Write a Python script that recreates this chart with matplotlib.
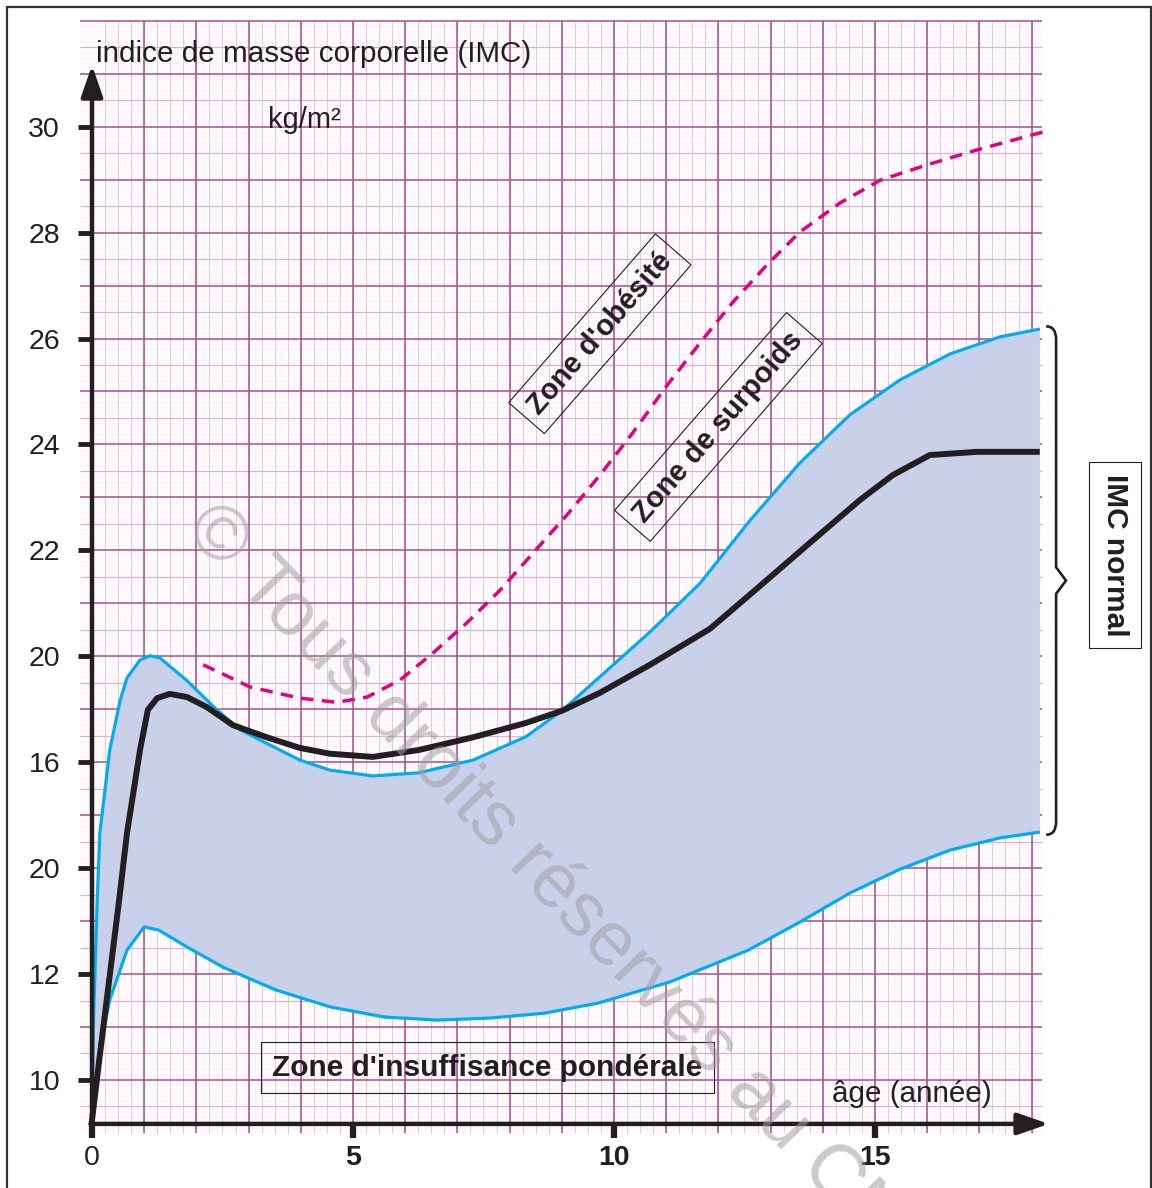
import numpy as np
import matplotlib
matplotlib.use("Agg")
import matplotlib.pyplot as plt
from matplotlib.patches import Rectangle, PathPatch
from matplotlib.path import Path

plt.rcParams['font.family'] = ['Liberation Sans', 'DejaVu Sans']

# --- data (age in years, IMC in kg/m2) ---
upper_age = [0, 0.04, 0.10, 0.15, 0.34, 0.54, 0.67, 0.92, 1.11, 1.30, 1.82, 2.39,
             2.84, 3.98, 4.56, 5.38, 6.26, 7.30, 8.31, 9.00, 9.92, 10.69, 11.65,
             12.61, 13.56, 14.52, 15.48, 16.44, 17.39, 18.16]
upper_imc = [11.81, 13.51, 15.40, 16.66, 18.23, 19.17, 19.59, 19.93, 20.01, 19.97,
             19.54, 18.99, 18.61, 18.04, 17.85, 17.74, 17.80, 18.04, 18.48, 18.97,
             19.78, 20.46, 21.38, 22.57, 23.65, 24.56, 25.22, 25.71, 26.03, 26.18]

median_age = [0, 0.15, 0.40, 0.52, 0.67, 0.92, 1.07, 1.25, 1.49, 1.82, 2.20, 2.70,
              3.35, 3.98, 4.56, 5.38, 6.26, 7.30, 8.31, 9.00, 9.73, 10.69, 11.84,
              12.80, 13.75, 14.71, 15.34, 16.05, 16.95, 18.10]
median_imc = [11.24, 12.47, 14.45, 15.40, 16.66, 18.23, 18.99, 19.21, 19.29, 19.23,
              19.04, 18.70, 18.47, 18.27, 18.16, 18.10, 18.23, 18.47, 18.74, 18.97,
              19.31, 19.84, 20.52, 21.33, 22.14, 22.95, 23.42, 23.80, 23.86, 23.86]

lower_age = [0, 0.15, 0.34, 0.67, 1.00, 1.28, 1.82, 2.51, 3.52, 4.56, 5.59, 6.61,
             7.64, 8.66, 9.69, 11.07, 12.57, 13.56, 14.52, 15.48, 16.44, 17.39, 18.16]
lower_imc = [11.43, 12.57, 13.51, 14.45, 14.89, 14.83, 14.51, 14.13, 13.70, 13.38,
             13.19, 13.13, 13.17, 13.26, 13.45, 13.85, 14.45, 14.98, 15.53, 15.98,
             16.34, 16.57, 16.68]

obese_age = [2.13, 3.03, 3.98, 4.69, 5.27, 5.90, 6.53, 7.18, 7.82, 8.45, 9.10, 9.73,
             10.36, 11.02, 11.65, 12.28, 12.93, 13.56, 14.33, 15.10, 16.00, 16.95, 18.22]
obese_imc = [19.84, 19.42, 19.21, 19.13, 19.23, 19.55, 20.06, 20.63, 21.25, 21.95,
             22.67, 23.42, 24.22, 25.12, 25.92, 26.69, 27.39, 28.01, 28.56, 28.99,
             29.28, 29.56, 29.90]

xticks = [0, 5, 10, 15]
xtick_labels = ['0', '5', '10', '15']
yticks = [12, 14, 16, 18, 20, 22, 24, 26, 28, 30]
ytick_labels = ['10', '12', '20', '16', '20', '22', '24', '26', '28', '30']

# --- colours ---
blue = '#00aeef'
dark = '#231f20'
pink = '#e6007e'
band = '#c9d0ea'

fig = plt.figure(figsize=(11.52, 11.88), dpi=100)
ax = fig.add_axes([0, 0, 1, 1])
ax.set_xlim(-1.7625, 20.307)
ax.set_ylim(9.96, 32.392)
ax.set_facecolor('white')

x_axis_y = 11.17
# graph paper background
gx0, gx1, gy0, gy1 = -0.23, 18.2, 11.0, 32.0
ax.add_patch(Rectangle((gx0, gy0), gx1 - gx0, gy1 - gy0, color='#fffbfd', zorder=0, lw=0))
ax.vlines(np.arange(0, 18.2, 0.125), gy0, gy1, color='#fdeef6', lw=0.4, zorder=0.5)
ax.hlines(np.arange(11.1, 32.0, 0.1), gx0, gx1, color='#fdeef6', lw=0.4, zorder=0.5)
ax.vlines(np.arange(0.25, 18.2, 0.25), gy0, gy1, color='#dccbd9', lw=0.7, zorder=0.6)
ax.hlines(np.arange(11.5, 32.0, 1.0), gx0, gx1, color='#e0b0d2', lw=0.9, zorder=0.6)
ax.vlines(np.arange(1, 19), gy0, gy1, color='#a84f8d', lw=1.1, zorder=0.7)
ax.hlines(np.arange(12, 33), gx0, gx1, color='#a84f8d', lw=1.1, zorder=0.7)

# normal band
ax.fill(np.concatenate([upper_age, lower_age[::-1]]),
        np.concatenate([upper_imc, lower_imc[::-1]]),
        color=band, lw=0, zorder=2)
ax.plot(upper_age, upper_imc, color=blue, lw=2.3, zorder=3, solid_capstyle='butt')
ax.plot(lower_age, lower_imc, color=blue, lw=2.3, zorder=3, solid_capstyle='butt')
ax.plot(median_age, median_imc, color=dark, lw=4.3, zorder=3.5, solid_joinstyle='round')
ax.plot(obese_age, obese_imc, color=pink, lw=2.5, dashes=(3.6, 2.4), zorder=3)

# axes, ticks
for s in ['top', 'right']:
    ax.spines[s].set_visible(False)
ax.spines['left'].set_position(('data', 0))
ax.spines['bottom'].set_position(('data', x_axis_y))
ax.spines['left'].set_visible(False)
ax.spines['bottom'].set_visible(False)
ax.set_xticks(xticks)
ax.set_xticklabels(xtick_labels)
ax.set_yticks(yticks)
ax.set_yticklabels(ytick_labels)
ax.tick_params(axis='y', direction='out', length=10, width=3.5, color=dark,
               labelsize=20.5, pad=13, labelcolor=dark)
ax.tick_params(axis='x', direction='out', length=10, width=4.5, color=dark,
               labelsize=20.5, pad=5, labelcolor=dark)
for lab in ax.get_xticklabels()[1:]:
    lab.set_fontweight('bold')

arrow_kw = dict(arrowstyle='-|>,head_length=0.95,head_width=0.33', lw=3.2,
                color=dark, mutation_scale=20, shrinkA=0, shrinkB=0)
ax.annotate('', xy=(0, 31.16), xytext=(0, x_axis_y - 0.04), arrowprops=arrow_kw, zorder=6)
ax.annotate('', xy=(18.33, x_axis_y), xytext=(-0.03, x_axis_y), arrowprops=arrow_kw, zorder=6)

# labels
ax.text(0.08, 31.22, 'indice de masse corporelle (IMC)', fontsize=21.3, color=dark,
        va='baseline', ha='left', zorder=6)
ax.text(3.37, 29.98, 'kg/m²', fontsize=21, color=dark, va='baseline', ha='left', zorder=6)
ax.text(14.18, 11.58, 'âge (année)', fontsize=21.3, color=dark, va='baseline', ha='left', zorder=6)

box = dict(boxstyle='square,pad=0.33', fc='none', ec=dark, lw=0.8)
ax.text(7.57, 12.23, "Zone d'insuffisance pondérale", fontsize=21.5, fontweight='bold',
        color=dark, ha='center', va='center', zorder=6,
        bbox=dict(boxstyle='square,pad=0.38', fc='none', ec=dark, lw=0.8))
ax.text(9.73, 26.09, "Zone d'obésité", fontsize=21, fontweight='bold', color=dark,
        ha='center', va='center', rotation=49, rotation_mode='anchor', bbox=box, zorder=6)
ax.text(12.0, 24.33, "Zone de surpoids", fontsize=21, fontweight='bold', color=dark,
        ha='center', va='center', rotation=49, rotation_mode='anchor', bbox=box, zorder=6)
ax.text(19.60, 21.91, "IMC normal", fontsize=21.5, fontweight='bold', color=dark,
        ha='center', va='center', rotation=-90, rotation_mode='anchor',
        bbox=dict(boxstyle='square,pad=0.4', fc='white', ec=dark, lw=0.8), zorder=6)

# brace for the normal band
bx, top, bot = 18.47, upper_imc[-1], lower_imc[-1]
mid = (top + bot) / 2
verts = [(18.28, top + 0.05), (bx, top + 0.05), (bx, top - 0.2),
         (bx, mid + 0.25), (18.66, mid), (bx, mid - 0.25),
         (bx, bot + 0.2), (bx, bot - 0.05), (18.28, bot - 0.05)]
codes = [Path.MOVETO, Path.CURVE3, Path.CURVE3,
         Path.LINETO, Path.LINETO, Path.LINETO,
         Path.LINETO, Path.CURVE3, Path.CURVE3]
ax.add_patch(PathPatch(Path(verts, codes), fc='none', ec=dark, lw=1.9, zorder=6))

# watermark (runs off the bottom edge, as in the original)
ax.text(8.98, 15.51, '© Tous droits réservés au CNP', fontsize=55, color='#a0a0a0',
        alpha=0.55, rotation=-46, rotation_mode='anchor', ha='center', va='center',
        zorder=7, clip_on=False)

# outer frame
fig.patches.append(Rectangle((7 / 1152, -0.01), 1144 / 1152, 1.01 - 7 / 1188,
                             transform=fig.transFigure, fill=False, ec='#333333', lw=1.6))

fig.savefig('out.png', dpi=100)
